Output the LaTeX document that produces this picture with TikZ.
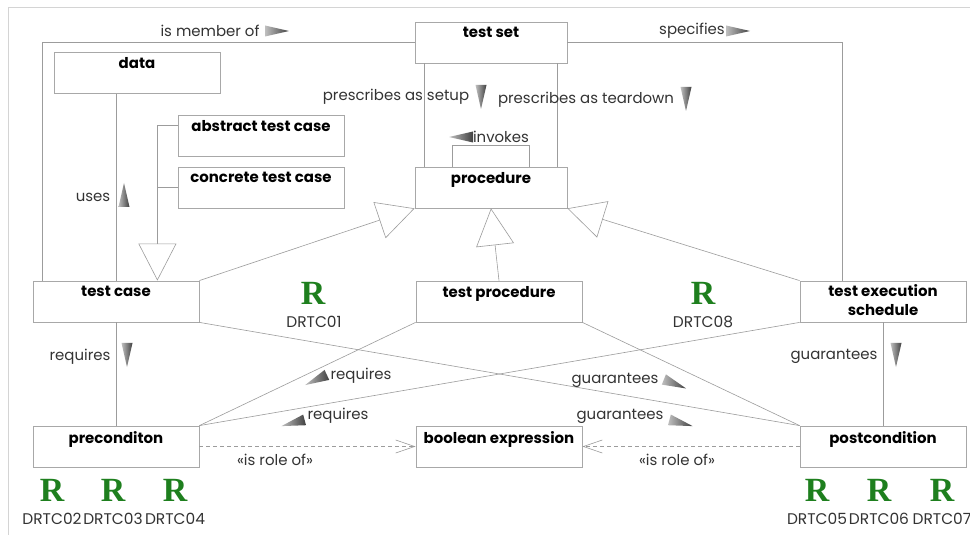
\documentclass[tikz,border=0pt]{standalone}
\usepackage{fontspec}
\setmainfont{Poppins}
\newfontfamily\rfont{Liberation Serif}
\usetikzlibrary{arrows.meta}
\definecolor{linegray}{HTML}{9C9C9C}
\definecolor{boxgray}{HTML}{A8A8A8}
\definecolor{framegray}{HTML}{D4D4D4}
\definecolor{txtgray}{HTML}{333333}
\definecolor{rgreen}{HTML}{1E7F1E}
\tikzset{
  box/.style={draw=boxgray, line width=0.8bp, fill=white, minimum width=166bp,
    minimum height=41bp, inner sep=0pt},
  smallbox/.style={box, minimum width=152bp},
  ttl/.style={anchor=north, inner sep=3bp, yshift=-2.5bp,
    font=\fontsize{15}{19}\selectfont\bfseries, text=black, align=center},
  conn/.style={draw=linegray, line width=0.6bp},
  genarrow/.style={conn, -{Triangle[open, length=37bp, width=38bp, line width=0.6bp]}},
  dep/.style={conn, dash pattern=on 4bp off 3bp,
    -{Straight Barb[length=19bp, width=13bp, line width=0.6bp]}},
  lbl/.style={font=\fontsize{15}{17}\selectfont, text=txtgray, inner sep=1bp},
  rmark/.style={font=\rfont\fontsize{34}{34}\selectfont\bfseries, text=rgreen, inner sep=0pt},
  rcode/.style={font=\fontsize{15.5}{17}\selectfont, text=txtgray, inner sep=0pt},
  flag/.pic={\shade[left color=gray!50, right color=black!75]
    (-12,-5.5) -- (12,0) -- (-12,5.5) -- cycle;}
}
\begin{document}
\begin{tikzpicture}[x=1bp, y=-1bp]
  % canvas and window edge
  \fill[white] (0,0) rectangle (970,535);
  \path[use as bounding box] (0,0) rectangle (970,535);
  \draw[framegray, line width=0.8bp] (970,7) -- (8,7) -- (8,535);

  % classes
  \node[smallbox, label={[ttl]north:test set}] (tset) at (491,42.5) {};
  \node[smallbox, label={[ttl]north:procedure}] (proc) at (491,187.5) {};
  \node[box, label={[ttl]north:data}] (data) at (137,73) {};
  \node[box, label={[ttl]north:abstract test case}] (abs) at (261,135.5) {};
  \node[box, label={[ttl]north:concrete test case}] (conc) at (261,187.5) {};
  \node[box, label={[ttl]north:test case}] (tcase) at (116,301.5) {};
  \node[box, label={[ttl]north:test procedure}] (tproc) at (499,301.5) {};
  \node[box, label={[ttl, inner sep=1.5bp]north:test execution\\schedule}] (tes) at (883,301.5) {};
  \node[box, label={[ttl]north:preconditon}] (pre) at (116,446.5) {};
  \node[box, label={[ttl]north:boolean expression}] (bool) at (499,446.5) {};
  \node[box, label={[ttl]north:postcondition}] (post) at (883,446.5) {};

  % associations from the test set
  \draw[conn] ([xshift=10bp]tcase.north west) |- (tset.west);
  \draw[conn] (tset.east) -| ([xshift=43bp]tes.north west);
  \draw[conn] ([xshift=10bp]tset.south west) -- ([xshift=10bp]proc.north west);
  \draw[conn] ([xshift=-10bp]tset.south east) -- ([xshift=-10bp]proc.north east);
  \draw[conn] ([xshift=38bp]proc.north west) -- ++(0,-21) -| ([xshift=-38bp]proc.north east);
  \draw[conn] (tcase.north) -- (tcase.north |- data.south);

  % generalisations
  \coordinate (gtip) at ([xshift=-42bp]tcase.north east);
  \draw[genarrow] ([yshift=10bp]abs.west) -| (gtip);
  \draw[conn] (conc.west) -- (conc.west -| gtip);
  \draw[genarrow] (tcase.north east) -- (proc.south west);
  \draw[genarrow] (tproc.north) -- (proc.south);
  \draw[genarrow] (tes.north west) -- (proc.south east);

  % requires / guarantees
  \draw[conn] (tcase.south) -- (pre.north);
  \draw[conn] (tes.south) -- (post.north);
  \draw[conn] (tcase.south east) -- (post.north west);
  \draw[conn] (tproc.south west) -- (pre.north east);
  \draw[conn] (tproc.south east) -- (post.north west);
  \draw[conn] (tes.south west) -- (pre.north east);

  % roles
  \draw[dep] (pre.east) -- (bool.west);
  \draw[dep] (post.west) -- (bool.east);

  % association labels with direction flags
  \node[lbl] (lmember) at (210,31) {is member of};
  \pic at (277,31) {flag};
  \node[lbl] (lspec) at (692,31) {specifies};
  \pic at (738,31) {flag};
  \node[lbl] (lsetup) at (396,97) {prescribes as setup};
  \pic[rotate=-90] at (481,97) {flag};
  \node[lbl] (ltear) at (586,100) {prescribes as teardown};
  \pic[rotate=-90] at (686,99) {flag};
  \node[lbl] (linv) at (501,137) {invokes};
  \pic[rotate=180] at (461,137) {flag};
  \node[lbl] (luses) at (93,197) {uses};
  \pic[rotate=90] at (124,195) {flag};
  \node[lbl] (lreq) at (80,357) {requires};
  \pic[rotate=-90] at (127,355) {flag};
  \node[lbl] (lreqa) at (361,376) {requires};
  \pic[rotate=205] at (316,380) {flag};
  \node[lbl] (lreqb) at (338,416) {requires};
  \pic[rotate=195] at (293,423) {flag};
  \node[lbl] (lgua) at (615,380) {guarantees};
  \pic[rotate=-22] at (675,384) {flag};
  \node[lbl] (lgub) at (620,416) {guarantees};
  \pic[rotate=-15] at (681,423) {flag};
  \node[lbl] (lguc) at (834,356) {guarantees};
  \pic[rotate=-90] at (896,355) {flag};
  \node[lbl] (lrole1) at (275,460) {«is role of»};
  \node[lbl] (lrole2) at (677,460) {«is role of»};

  % requirement markers
  \node[rmark] (r01) at (313,293) {R};
  \node[rcode] (c01) at (314,322) {DRTC01};
  \node[rmark] (r08) at (703,293) {R};
  \node[rcode] (c08) at (703,322) {DRTC08};
  \node[rmark] (r02) at (52,490) {R};
  \node[rcode] (c02) at (52,519) {DRTC02};
  \node[rmark] (r03) at (113,490) {R};
  \node[rcode] (c03) at (113,519) {DRTC03};
  \node[rmark] (r04) at (175,490) {R};
  \node[rcode] (c04) at (175,519) {DRTC04};
  \node[rmark] (r05) at (817,490) {R};
  \node[rcode] (c05) at (817,519) {DRTC05};
  \node[rmark] (r06) at (879,490) {R};
  \node[rcode] (c06) at (879,519) {DRTC06};
  \node[rmark] (r07) at (942,490) {R};
  \node[rcode] (c07) at (942,519) {DRTC07};
\end{tikzpicture}
\end{document}
